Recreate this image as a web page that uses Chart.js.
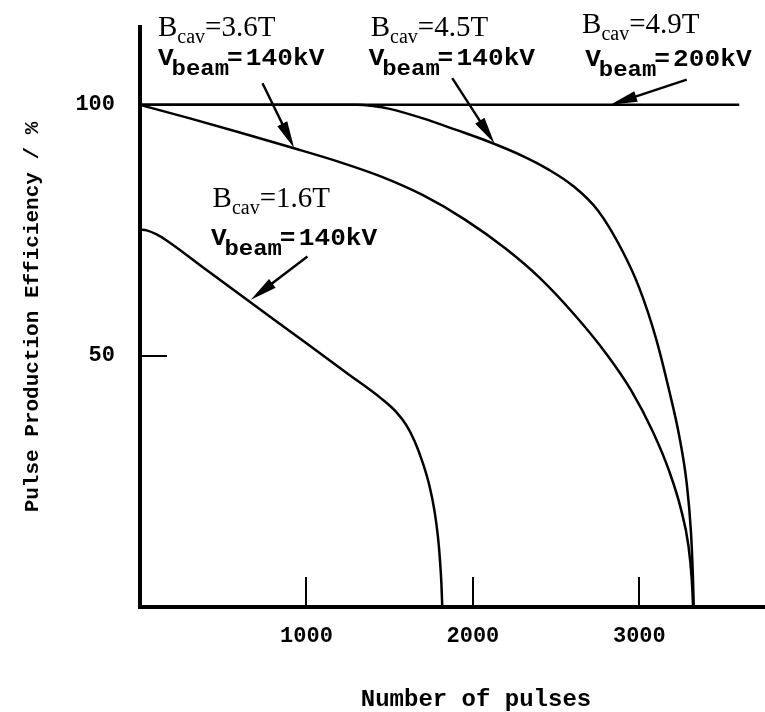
<!DOCTYPE html>
<html>
<head>
<meta charset="utf-8">
<script src="https://cdn.jsdelivr.net/npm/chart.js@4.4.1/dist/chart.umd.min.js"></script>
<style>
  html, body { margin: 0; padding: 0; background: #fff; }
</style>
</head>
<body>
<canvas id="chart" width="765" height="712"></canvas>
<script>
// pulses vs. pulse production efficiency (%)
var pulses16 = [0, 40, 100, 160, 400, 700, 1000, 1250, 1450, 1540, 1600, 1650, 1700, 1740, 1770, 1790, 1803, 1811, 1816];
var eff16 = [75.2, 75.0, 74.2, 73.0, 67.1, 59.8, 52.5, 46.4, 41.5, 38.8, 36.2, 33.0, 28.6, 24.0, 19.0, 14.0, 9.0, 4.5, 0];

var pulses36 = [0, 300, 600, 900, 1200, 1450, 1700, 1950, 2200, 2400, 2600, 2800, 2950, 3080, 3180, 3250, 3295, 3315, 3323];
var eff36 = [100, 97.3, 94.5, 91.6, 88.6, 85.7, 82.0, 77.2, 71.3, 65.6, 58.6, 50.5, 43.2, 35.0, 27.0, 19.5, 12.2, 5.5, 0];

var pulses45 = [0, 1300, 1400, 1500, 1700, 1900, 2100, 2300, 2450, 2600, 2750, 2900, 3000, 3100, 3180, 3240, 3285, 3310, 3322, 3327];
var eff45 = [100, 100, 99.75, 99.2, 97.3, 95.0, 92.6, 89.8, 87.2, 83.9, 79.0, 70.8, 63.5, 53.5, 43.0, 34.0, 24.5, 15.0, 6.0, 0];

var pulses49 = [0, 3600];
var eff49 = [100, 100];

var xTicks = [1000, 2000, 3000];
var yTicks = [50, 100];

var bField = ['3.6T', '4.5T', '4.9T', '1.6T'];
var vBeam = ['140kV', '140kV', '200kV', '140kV'];

// where the labels and arrows sit, in data units
var notePos = [
  { b: [108, 113.7], v: [108, 108.0], tail: [736, 104.3], tip: [926, 91.4] },
  { b: [1386, 113.7], v: [1374, 108.0], tail: [1876, 105.3], tip: [2130, 92.3] },
  { b: [2656, 114.3], v: [2675, 107.8], tail: [3285, 105.0], tip: [2826, 100] },
  { b: [436, 79.7], v: [426, 72.1], tail: [1006, 69.8], tip: [666, 61.2] }
];

var MONO = '"Liberation Mono", "DejaVu Sans Mono", monospace';
var SERIF = '"Liberation Serif", "DejaVu Serif", serif';

function curve(xs, ys) {
  return {
    data: xs.map(function (x, i) { return { x: x, y: ys[i] }; }),
    borderColor: '#000',
    borderWidth: 2.5,
    pointRadius: 0,
    fill: false,
    cubicInterpolationMode: 'monotone',
    clip: false
  };
}

// draws text pieces one after the other; [text, font, dy, extra gap]
function rich(ctx, x, y, parts, stretch) {
  ctx.save();
  ctx.translate(x, y);
  ctx.scale(stretch || 1, 1);
  ctx.textAlign = 'left';
  ctx.textBaseline = 'alphabetic';
  var cx = 0;
  parts.forEach(function (p) {
    ctx.font = p[1];
    ctx.fillText(p[0], cx, p[2] || 0);
    cx += ctx.measureText(p[0]).width + (p[3] || 0);
  });
  ctx.restore();
}

function arrow(ctx, x1, y1, x2, y2) {
  var a = Math.atan2(y2 - y1, x2 - x1), len = 27, half = 5.5;
  var c = Math.cos(a), s = Math.sin(a);
  ctx.lineWidth = 2.4;
  ctx.beginPath();
  ctx.moveTo(x1, y1);
  ctx.lineTo(x2 - c * len * 0.8, y2 - s * len * 0.8);
  ctx.stroke();
  ctx.beginPath();
  ctx.moveTo(x2, y2);
  ctx.lineTo(x2 - len * c + half * s, y2 - len * s - half * c);
  ctx.lineTo(x2 - len * c - half * s, y2 - len * s + half * c);
  ctx.closePath();
  ctx.fill();
}

var notes = {
  id: 'notes',
  afterDatasetsDraw: function (chart) {
    var ctx = chart.ctx, xs = chart.scales.x, ys = chart.scales.y;
    ctx.save();
    ctx.fillStyle = '#000';
    ctx.strokeStyle = '#000';
    notePos.forEach(function (p, i) {
      arrow(ctx,
        xs.getPixelForValue(p.tail[0]), ys.getPixelForValue(p.tail[1]),
        xs.getPixelForValue(p.tip[0]), ys.getPixelForValue(p.tip[1]));
      rich(ctx, xs.getPixelForValue(p.b[0]), ys.getPixelForValue(p.b[1]), [
        ['B', '29px ' + SERIF],
        ['cav', '20px ' + SERIF, 7],
        ['=' + bField[i], '29px ' + SERIF]
      ]);
      rich(ctx, xs.getPixelForValue(p.v[0]), ys.getPixelForValue(p.v[1]), [
        ['V', 'bold 24px ' + MONO, 0, -2],
        ['beam', 'bold 22px ' + MONO, 10, -2],
        ['=', 'bold 24px ' + MONO, 0, 3],
        [vBeam[i], 'bold 24px ' + MONO]
      ], 1.09);
    });
    ctx.font = 'bold 24px ' + MONO;
    ctx.textAlign = 'center';
    ctx.textBaseline = 'middle';
    ctx.fillText('Number of pulses', chart.chartArea.left + 336, 700);
    ctx.restore();
  }
};

var tickFont = { family: MONO, weight: 'bold', size: 22 };

new Chart(document.getElementById('chart'), {
  type: 'line',
  data: {
    datasets: [curve(pulses16, eff16), curve(pulses36, eff36), curve(pulses45, eff45), curve(pulses49, eff49)]
  },
  options: {
    responsive: false,
    animation: false,
    devicePixelRatio: 1,
    layout: { padding: { top: 27, left: 0, right: 0, bottom: 0 } },
    plugins: { legend: { display: false }, tooltip: { enabled: false } },
    scales: {
      x: {
        type: 'linear',
        min: 0,
        max: 3755,
        afterBuildTicks: function (s) { s.ticks = xTicks.map(function (v) { return { value: v }; }); },
        afterFit: function (s) { s.height = 105; s.paddingLeft = 0; s.paddingRight = 0; },
        grid: { drawOnChartArea: false, tickLength: -30, color: '#000', lineWidth: 2 },
        border: { color: '#000', width: 4 },
        ticks: {
          color: '#000', font: tickFont, padding: 46, maxRotation: 0, autoSkip: false,
          callback: function (v) { return String(v); }
        }
      },
      y: {
        type: 'linear',
        min: 0,
        max: 115.5,
        afterBuildTicks: function (s) { s.ticks = yTicks.map(function (v) { return { value: v }; }); },
        afterFit: function (s) { s.width = 140; s.paddingTop = 0; s.paddingBottom = 0; },
        grid: { drawOnChartArea: false, tickLength: -27, color: '#000', lineWidth: 2 },
        border: { color: '#000', width: 4 },
        ticks: {
          color: '#000', font: tickFont, padding: 52,
          callback: function (v) { return String(v); }
        },
        title: {
          display: true,
          text: 'Pulse Production Efficiency / %',
          color: '#000',
          font: { family: MONO, weight: 'bold', size: 21 },
          padding: { top: 20, bottom: 0 }
        }
      }
    }
  },
  plugins: [notes]
});
</script>
</body>
</html>
